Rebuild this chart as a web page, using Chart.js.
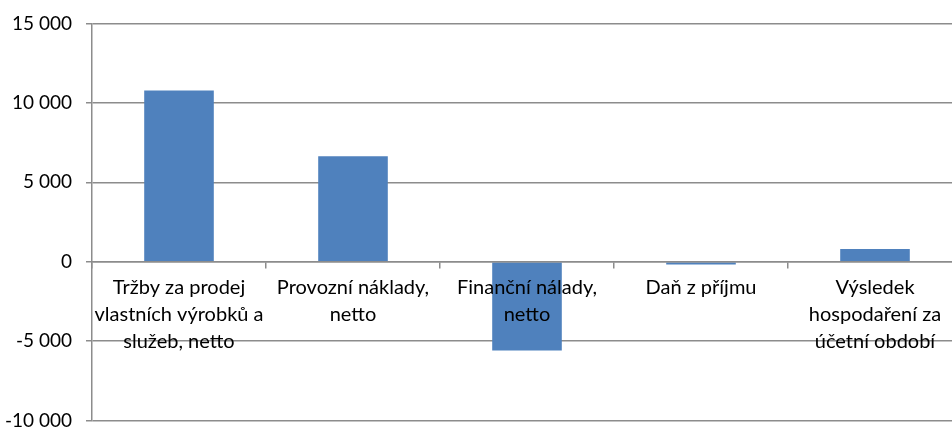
<!DOCTYPE html>
<html>
<head>
<meta charset="utf-8">
<script src="https://cdn.jsdelivr.net/npm/chart.js@4"></script>
<style>
  html, body { margin: 0; padding: 0; background: #fff; overflow: hidden; }
  #wrap { width: 970px; height: 448px; margin-top: -2px; }
</style>
</head>
<body>
<div id="wrap"><canvas id="chart"></canvas></div>
<script>
// category labels, already wrapped the way the original shows them
var categories = [
    ['Tržby za prodej', 'vlastních výrobků a', 'služeb, netto'],
    ['Provozní náklady,', 'netto'],
    ['Finanční nálady,', 'netto'],
    ['Daň z příjmu'],
    ['Výsledek', 'hospodaření za', 'účetní období']
];
var values = [10770, 6640, -5580, -180, 800];

var yMin = -10000, yMax = 15000, yStep = 5000;

var gridColor = '#8c8c8c';

function fmt(v) {
    var s = String(Math.abs(v)).replace(/\B(?=(\d{3})+(?!\d))/g, ' ');
    return (v < 0 ? '-' : '') + s;
}

new Chart(document.getElementById('chart'), {
    type: 'bar',
    data: {
        labels: categories,
        datasets: [{
            data: values,
            backgroundColor: '#4f81bd',
            borderWidth: 0,
            barPercentage: 0.4,
            categoryPercentage: 1
        }]
    },
    options: {
        responsive: true,
        maintainAspectRatio: false,
        animation: false,
        layout: { padding: { left: 0, right: 8, top: 0, bottom: 0 } },
        plugins: {
            legend: { display: false },
            tooltip: { enabled: false }
        },
        scales: {
            x: {
                position: { y: 0 },
                offset: true,
                grid: {
                    drawOnChartArea: false,
                    offset: true,
                    color: gridColor,
                    tickLength: 6,
                    lineWidth: 1.5,
                    z: 1
                },
                border: { display: true, color: gridColor, width: 1.5, z: 1 },
                ticks: {
                    z: 1,
                    color: '#000',
                    autoSkip: false,
                    maxRotation: 0,
                    minRotation: 0,
                    padding: 7,
                    font: { family: 'Lato', size: 20, lineHeight: 1.33 }
                }
            },
            y: {
                min: yMin,
                max: yMax,
                afterFit: function (scale) { scale.width = 92; },
                grid: {
                    color: gridColor,
                    lineWidth: 1.5,
                    tickLength: 6
                },
                border: { display: true, color: gridColor, width: 1.5 },
                ticks: {
                    stepSize: yStep,
                    color: '#000',
                    padding: 14,
                    font: { family: 'Lato', size: 19 },
                    callback: function (v) { return fmt(v); }
                }
            }
        }
    }
});
</script>
</body>
</html>
